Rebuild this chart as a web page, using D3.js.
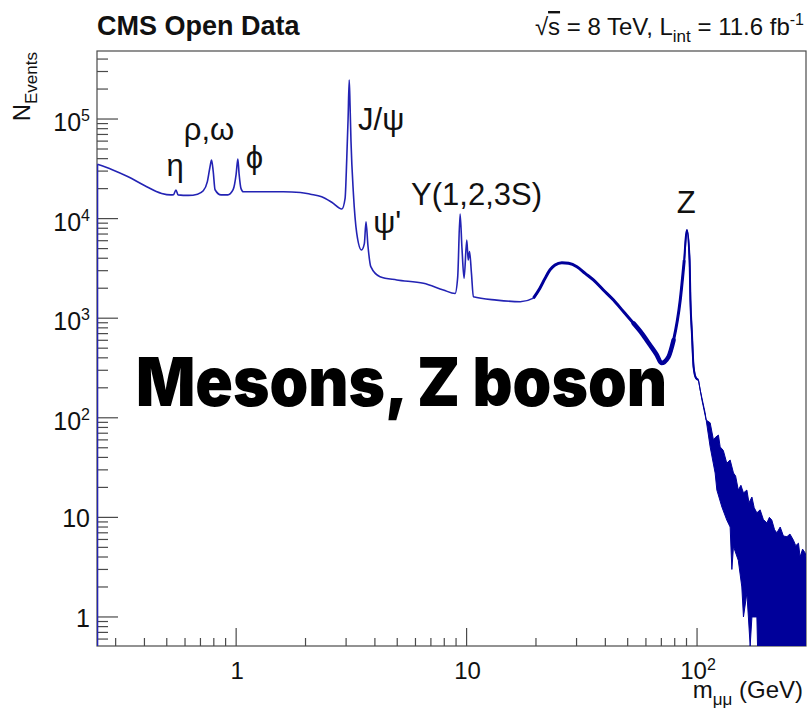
<!DOCTYPE html>
<html>
<head>
<meta charset="utf-8">
<style>
    body { margin: 0; background: #fff; }
    svg { font-family: "Liberation Sans", Arial, Helvetica, sans-serif; }
</style>
</head>
<body>
<svg width="810" height="709"></svg>
<script src="https://d3js.org/d3.v7.min.js"></script>
<script>
// dimuon invariant mass spectrum
const massGeV = [0.25, 0.29, 0.34, 0.40, 0.475, 0.52, 0.535, 0.548, 0.56, 0.62, 0.68, 0.72, 0.75, 0.77, 0.782, 0.795, 0.81, 0.86, 0.92, 0.97, 1.0, 1.017, 1.03, 1.05, 1.075, 1.3, 1.6, 1.9, 2.1, 2.35, 2.6, 2.875,
    2.97, 3.02, 3.06, 3.095, 3.12, 3.15, 3.227, 3.337, 3.5, 3.6, 3.66, 3.73, 3.84, 4.21, 4.98, 6.5, 7.93, 8.91, 9.15, 9.37, 9.55, 9.75, 10.02, 10.16, 10.3, 10.5, 10.7, 13.5, 17.1,
    19.5, 20.8, 21.9, 23, 24.2, 25.9, 27.7, 30.1, 32.7, 35.5, 39.2, 43.4, 48, 53, 57.6, 62.5, 66.9, 70, 75.2, 79.1, 84.5, 88, 90.4, 92.8, 93.6, 95, 96.6, 99, 101.4];
const nEvents = [35100, 31000, 26300, 21500, 17900, 17300, 17400, 19400, 17300, 17100, 17600, 19000, 23500, 33000, 38800, 30000, 19500, 17300, 17300, 19500, 28000, 39700, 28000, 20000, 18600, 18600, 18600, 18300, 17600, 16600, 14600, 12500,
    16000, 40000, 100000, 246000, 140000, 60000, 17900, 7120, 4840, 5600, 9310, 5400, 3290, 2610, 2420, 2240, 1920, 1770, 2600, 11100, 5000, 2520, 6100, 3840, 4660, 2800, 1640, 1520, 1465,
    1590, 2000, 2510, 3050, 3420, 3610, 3560, 3290, 2820, 2420, 1920, 1520, 1160, 889, 705, 538, 427, 355, 410, 604, 1510, 3830, 7690, 3830, 1510, 705, 324, 250, 240];

// high mass tail: upper and lower edge of the fluctuating bins
const tailMassUp = [101.4, 105, 109.5, 114, 117.8, 120.5, 123.8, 126, 130, 134.6, 139.2, 143.9, 147, 151, 155, 159, 164.5, 168, 173, 177, 181.8, 187.8, 194, 201, 206, 211, 217, 222, 229.5, 237, 245.5, 253, 262, 268, 275.5, 280, 287, 294.5, 297];
const tailUp = [240, 151, 95, 89, 60, 64, 67, 51, 47, 35, 37.7, 27.9, 26, 18.8, 21, 17.6, 18.8, 14, 16, 12.5, 11.1, 11.9, 9.5, 8.8, 10, 9.4, 7.5, 7.0, 8.0, 6.5, 6.4, 6.8, 5.9, 5.2, 5.5, 4.0, 4.8, 4.4, 4.0];
const tailMassLow = [101.4, 103.2, 108.4, 114, 119.8, 121.9, 128.2, 134.6, 139.2, 141.6, 143.9, 151, 156.4, 159, 164.5, 167, 170, 173, 181.8, 183, 297];
const tailLow = [240, 190, 112, 51, 27.9, 18.8, 12.7, 9.4, 8.0, 3.0, 5.1, 3.7, 2.0, 1.0, 1.74, 1.0, 0.51, 1.0, 1.0, 0.51, 0.51];

// resonance labels
const peakLabels = ["η", "ρ,ω", "ϕ", "J/ψ", "ψ'", "Υ(1,2,3S)", "Z"];
const labelMass = [0.543, 0.763, 1.20, 3.38, 3.93, 5.74, 89.7];
const labelCount = [26800, 61500, 32200, 77600, 7170, 13700, 11400];
const labelAnchor = ["middle", "middle", "middle", "start", "start", "start", "middle"];

const yMajor = [1, 10, 100, 1e3, 1e4, 1e5];
const yExp = ["", "", "2", "3", "4", "5"];
const xMajor = [1, 10, 100];
const xExp = ["", "", "2"];

let margin = ({top: 51, right: 4, bottom: 63, left: 97});
let width = 810, height = 709;
let svg = d3.select("svg");

let x = d3.scaleLog()
    .domain([0.249, 297])
    .range([margin.left, width - margin.right]);

let y = d3.scaleLog()
    .domain([0.511, 4.82e5])
    .range([height - margin.bottom, margin.top])
    .clamp(true);

const x0 = x.range()[0], x1 = x.range()[1];
const y0 = y.range()[0], y1 = y.range()[1];

svg.append("defs").append("clipPath").attr("id", "plot")
    .append("rect")
    .attr("x", x0).attr("y", y1)
    .attr("width", x1 - x0).attr("height", y0 - y1);

// minor ticks 2..9 per decade
function minorTicks(domain) {
    let out = [];
    for (let e = Math.floor(Math.log10(domain[0])); e <= Math.ceil(Math.log10(domain[1])); e++) {
        for (let k = 2; k <= 9; k++) {
            let v = k * Math.pow(10, e);
            if (v >= domain[0] && v <= domain[1]) out.push(v);
        }
    }
    return out;
}

let axes = svg.append("g")
    .attr("stroke", "#4a4a4a")
    .attr("stroke-width", 1.2);

axes.append("rect")
    .attr("x", x0).attr("y", y1)
    .attr("width", x1 - x0).attr("height", y0 - y1)
    .attr("fill", "none");

axes.append("g").selectAll("line")
    .data(yMajor.map(v => [v, 21]).concat(minorTicks(y.domain()).map(v => [v, 11])))
    .join("line")
    .attr("x1", x0).attr("x2", d => x0 + d[1])
    .attr("y1", d => y(d[0])).attr("y2", d => y(d[0]));

axes.append("g").selectAll("line")
    .data(xMajor.map(v => [v, 18]).concat(minorTicks(x.domain()).map(v => [v, 8])))
    .join("line")
    .attr("x1", d => x(d[0])).attr("x2", d => x(d[0]))
    .attr("y1", y0).attr("y2", d => y0 - d[1]);

// tick labels
let yl = svg.append("g")
    .attr("font-size", 25)
    .attr("text-anchor", "end")
    .attr("fill", "#111")
    .selectAll("text")
    .data(yMajor)
    .join("text")
    .attr("x", 90)
    .attr("y", (d, i) => y(d) + (yExp[i] ? 12 : 10));
yl.append("tspan").text(d => d >= 10 ? "10" : "1");
yl.append("tspan")
    .attr("font-size", 16)
    .attr("dy", -10)
    .text((d, i) => yExp[i]);

let xl = svg.append("g")
    .attr("font-size", 24)
    .attr("text-anchor", "middle")
    .attr("fill", "#111")
    .selectAll("text")
    .data(xMajor)
    .join("text")
    .attr("x", d => x(d) + 1)
    .attr("y", 679);
xl.append("tspan").text(d => d >= 10 ? "10" : "1");
xl.append("tspan")
    .attr("font-size", 16)
    .attr("dy", -9)
    .text((d, i) => xExp[i]);

// axis titles
let xt = svg.append("text")
    .attr("x", 803).attr("y", 698)
    .attr("text-anchor", "end")
    .attr("font-size", 24)
    .attr("fill", "#111");
xt.append("tspan").text("m");
xt.append("tspan").attr("font-size", 17).attr("dy", 7).text("μμ");
xt.append("tspan").attr("dy", -7).text(" (GeV)");

let yt = svg.append("text")
    .attr("transform", "translate(30,52) rotate(-90)")
    .attr("text-anchor", "end")
    .attr("font-size", 24)
    .attr("fill", "#111");
yt.append("tspan").text("N");
yt.append("tspan").attr("font-size", 17).attr("dy", 7).text("Events");

// header
svg.append("text")
    .attr("x", 97).attr("y", 35)
    .attr("font-size", 27)
    .attr("font-weight", "bold")
    .attr("fill", "#111")
    .text("CMS Open Data");

let hdr = svg.append("text")
    .attr("x", 804).attr("y", 35)
    .attr("text-anchor", "end")
    .attr("font-size", 24)
    .attr("fill", "#111");
hdr.append("tspan").text("√");
hdr.append("tspan").style("text-decoration", "overline").text("s");
hdr.append("tspan").text(" = 8 TeV, L");
hdr.append("tspan").attr("font-size", 17).attr("dy", 7).text("int");
hdr.append("tspan").attr("dy", -7).text(" = 11.6 fb");
hdr.append("tspan").attr("font-size", 16).attr("dy", -10).text("-1");

// spectrum
let pts = massGeV.map((m, i) => [m, nEvents[i]]);
let line = d3.line().x(d => x(d[0])).y(d => y(d[1]));
let smooth = d3.line().x(d => x(d[0])).y(d => y(d[1])).curve(d3.curveMonotoneX);

let plot = svg.append("g").attr("clip-path", "url(#plot)");

// left edge of the histogram down to the axis
plot.append("line")
    .attr("x1", x0 + 0.5).attr("x2", x0 + 0.5)
    .attr("y1", y(nEvents[0])).attr("y2", y0)
    .attr("stroke", "#2323b4")
    .attr("stroke-width", 1.6);

plot.append("path")
    .datum(pts)
    .attr("fill", "none")
    .attr("stroke", "#2323b4")
    .attr("stroke-width", 1.6)
    .attr("stroke-linejoin", "round")
    .attr("d", smooth);

// noisier, thicker part above the upsilons
plot.append("path")
    .datum(pts.filter(d => d[0] >= 19.5 && d[0] <= 88))
    .attr("fill", "none")
    .attr("stroke", "#00009a")
    .attr("stroke-width", 3)
    .attr("stroke-linejoin", "round")
    .attr("d", smooth);

plot.append("path")
    .datum(pts.filter(d => d[0] >= 53 && d[0] <= 79.1))
    .attr("fill", "none")
    .attr("stroke", "#00009a")
    .attr("stroke-width", 4.5)
    .attr("stroke-linecap", "round")
    .attr("d", smooth);

plot.append("path")
    .datum(pts.filter(d => d[0] >= 88))
    .attr("fill", "none")
    .attr("stroke", "#00009a")
    .attr("stroke-width", 2)
    .attr("stroke-linejoin", "round")
    .attr("d", smooth);

let band = tailMassUp.map((m, i) => [m, tailUp[i]])
    .concat(tailMassLow.map((m, i) => [m, tailLow[i]]).reverse());

plot.append("path")
    .datum(band)
    .attr("fill", "#00009a")
    .attr("stroke", "#00009a")
    .attr("stroke-width", 1)
    .attr("d", d => line(d) + "Z");

// resonance labels
svg.append("g")
    .attr("font-size", 31)
    .attr("fill", "#111")
    .selectAll("text")
    .data(peakLabels)
    .join("text")
    .attr("x", (d, i) => x(labelMass[i]))
    .attr("y", (d, i) => y(labelCount[i]))
    .attr("text-anchor", (d, i) => labelAnchor[i])
    .text(d => d);

// overlay caption
svg.append("text")
    .attr("x", 136).attr("y", 406)
    .attr("font-family", "Inter, Roboto, sans-serif")
    .attr("font-weight", 900)
    .attr("font-size", 68)
    .attr("textLength", 531)
    .attr("lengthAdjust", "spacingAndGlyphs")
    .attr("fill", "#000")
    .attr("stroke", "#fff")
    .attr("stroke-width", 5)
    .attr("stroke-linejoin", "round")
    .attr("paint-order", "stroke")
    .text("Mesons, Z boson");
</script>
</body>
</html>
